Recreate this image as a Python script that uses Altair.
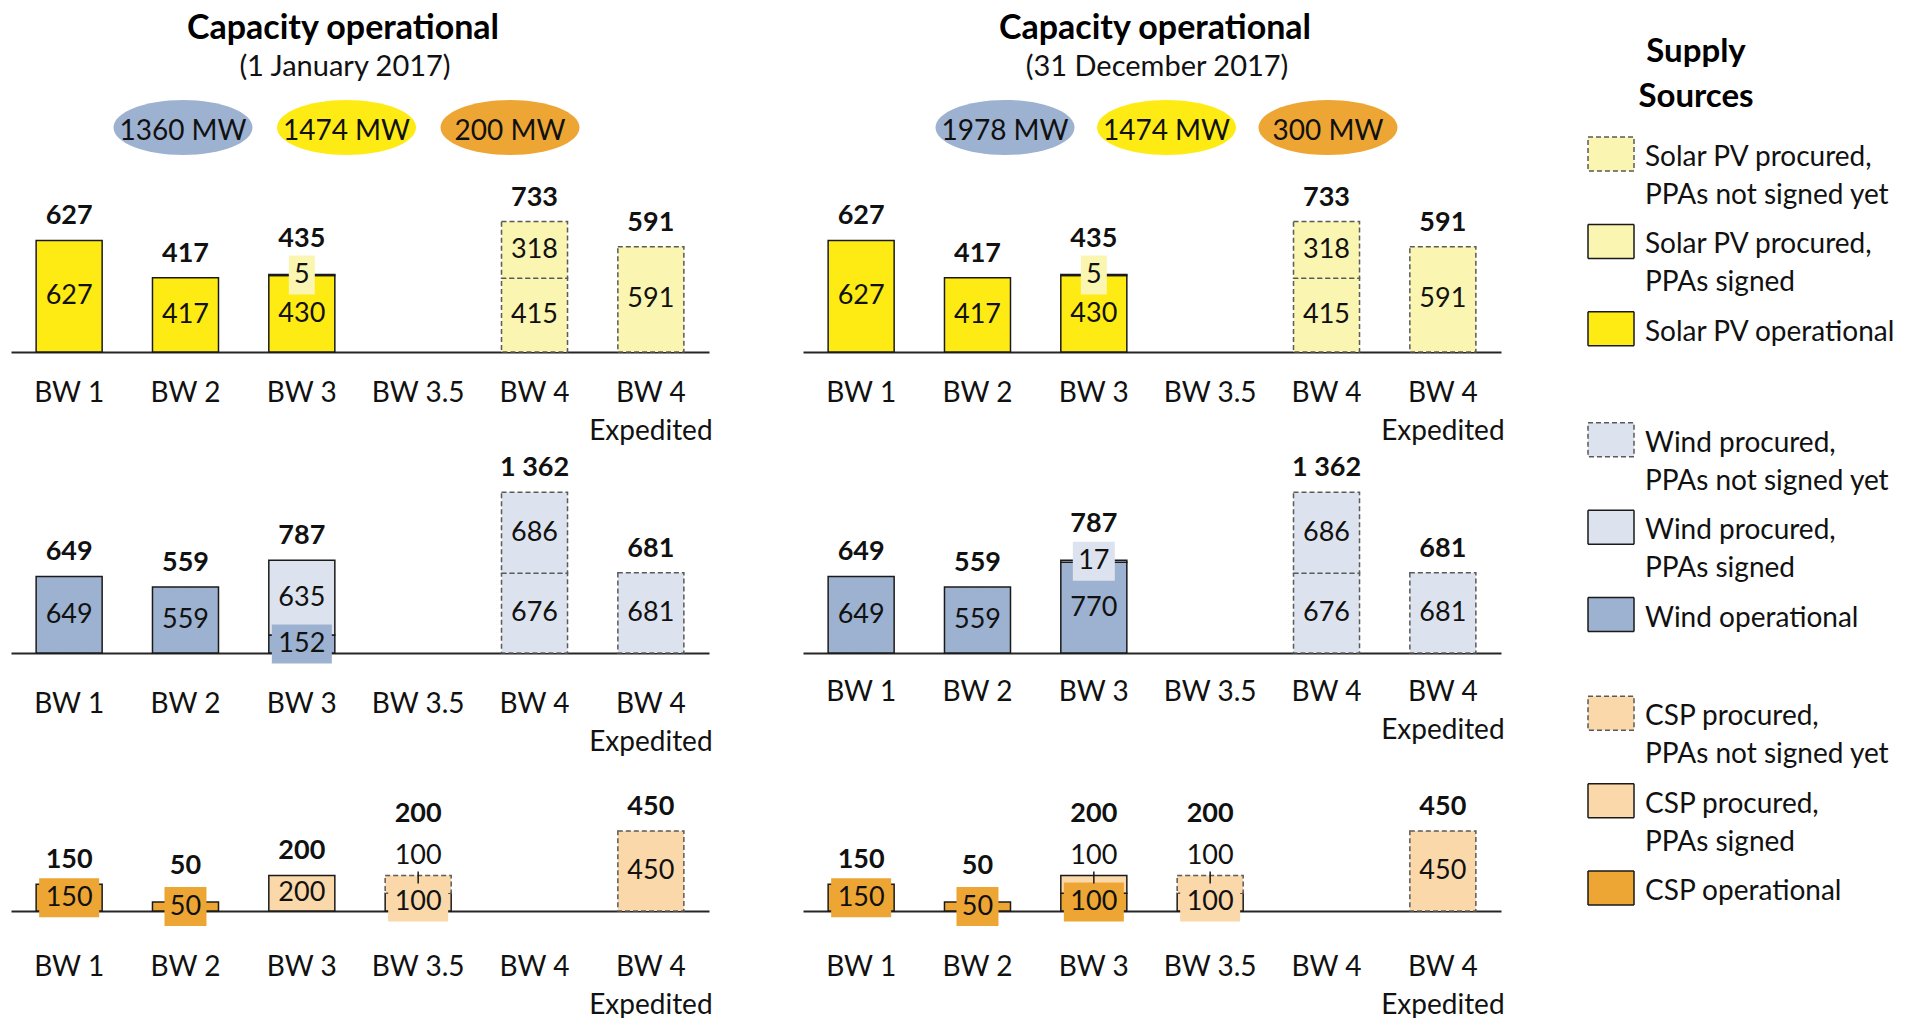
import altair as alt
import pandas as pd

# ---------------- data ----------------
categories = ["BW 1", "BW 2", "BW 3", "BW 3.5", "BW 4", "BW 4 Expedited"]
sources = ["Wind", "Solar PV", "CSP"]
statuses = ["not signed", "signed", "operational"]
panels = ["jan", "dec"]
panel_dates = {"jan": "1 January 2017", "dec": "31 December 2017"}

# stacked segments, bottom to top: (bid window, status, MW)
solar_jan = [("BW 1", "operational", 627), ("BW 2", "operational", 417),
             ("BW 3", "operational", 430), ("BW 3", "signed", 5),
             ("BW 4", "not signed", 415), ("BW 4", "not signed", 318),
             ("BW 4 Expedited", "not signed", 591)]
solar_dec = [("BW 1", "operational", 627), ("BW 2", "operational", 417),
             ("BW 3", "operational", 430), ("BW 3", "signed", 5),
             ("BW 4", "not signed", 415), ("BW 4", "not signed", 318),
             ("BW 4 Expedited", "not signed", 591)]
wind_jan = [("BW 1", "operational", 649), ("BW 2", "operational", 559),
            ("BW 3", "operational", 152), ("BW 3", "signed", 635),
            ("BW 4", "not signed", 676), ("BW 4", "not signed", 686),
            ("BW 4 Expedited", "not signed", 681)]
wind_dec = [("BW 1", "operational", 649), ("BW 2", "operational", 559),
            ("BW 3", "operational", 770), ("BW 3", "signed", 17),
            ("BW 4", "not signed", 676), ("BW 4", "not signed", 686),
            ("BW 4 Expedited", "not signed", 681)]
csp_jan = [("BW 1", "operational", 150), ("BW 2", "operational", 50),
           ("BW 3", "signed", 200),
           ("BW 3.5", "signed", 100), ("BW 3.5", "not signed", 100),
           ("BW 4 Expedited", "not signed", 450)]
csp_dec = [("BW 1", "operational", 150), ("BW 2", "operational", 50),
           ("BW 3", "operational", 100), ("BW 3", "signed", 100),
           ("BW 3.5", "signed", 100), ("BW 3.5", "not signed", 100),
           ("BW 4 Expedited", "not signed", 450)]

legend_labels = {
    "not signed": ["{} procured,", "PPAs not signed yet"],
    "signed": ["{} procured,", "PPAs signed"],
    "operational": ["{} operational"],
}
legend_order = ["Solar PV", "Wind", "CSP"]

# ---------------- styles ----------------
FONT = "Lato"
fill_colors = {
    ("Solar PV", "operational"): "#FFEB14", ("Solar PV", "signed"): "#FAF5B0", ("Solar PV", "not signed"): "#FAF5B0",
    ("Wind", "operational"): "#9DB1D1", ("Wind", "signed"): "#DDE3EE", ("Wind", "not signed"): "#DDE3EE",
    ("CSP", "operational"): "#EDA633", ("CSP", "signed"): "#FAD8AA", ("CSP", "not signed"): "#FAD8AA",
}
key_domain = [f"{s}|{t}" for s in sources for t in statuses]
key_fill = [fill_colors[(s, t)] for s in sources for t in statuses]
key_stroke = ["#5A5A5A" if t == "not signed" else "#1A1A1A" for s in sources for t in statuses]
key_dash = [[5, 3] if t == "not signed" else [1, 0] for s in sources for t in statuses]

fill_enc = alt.Fill("key:N", scale=alt.Scale(domain=key_domain, range=key_fill), legend=None)
stroke_enc = alt.Stroke("key:N", scale=alt.Scale(domain=key_domain, range=key_stroke), legend=None)
dash_enc = alt.StrokeDash("key:N", scale=alt.Scale(domain=key_domain, range=key_dash), legend=None)

px_per_mw = {"Solar PV": 0.178, "Wind": 0.118, "CSP": 0.178}
row_height = {"Solar PV": 160, "Wind": 301, "CSP": 258}
label_pad = {("jan", "Solar PV"): 27, ("jan", "Wind"): 37, ("jan", "CSP"): 42,
             ("dec", "Solar PV"): 27, ("dec", "Wind"): 25, ("dec", "CSP"): 42}
PANEL_W = 698
HEADER_H = 184
LEG_W = 300
title_x = {"jan": 334, "dec": 354}
ellipse_range = {"jan": [172, 499], "dec": [202, 525]}
legend_group_start = [0, 3.27, 6.4]


def rect_path(w, h):
    return f"M{-w/2},{-h/2}H{w/2}V{h/2}H{-w/2}Z"


box_paths = [rect_path(26, 39), rect_path(42, 39), rect_path(60, 39)]
ELLIPSE = "M-69.5,0A69.5,27.5 0 1,1 69.5,0A69.5,27.5 0 1,1 -69.5,0Z"
SWATCH = rect_path(46, 34)

# ---------------- tables ----------------
rows = {("jan", "Solar PV"): solar_jan, ("dec", "Solar PV"): solar_dec,
        ("jan", "Wind"): wind_jan, ("dec", "Wind"): wind_dec,
        ("jan", "CSP"): csp_jan, ("dec", "CSP"): csp_dec}

seg_records, tot_records = [], []
for (panel, src), segs in rows.items():
    stack, bars = {}, {}
    for cat, status, mw in segs:
        y0 = stack.get(cat, 0)
        first = cat not in bars
        above = (src == "CSP") and not first
        stack[cat] = y0 + mw
        bars.setdefault(cat, []).append((mw, above))
        seg_records.append(dict(panel=panel, source=src, category=cat, status=status,
                                key=f"{src}|{status}", mw=mw, y0=y0, y1=y0 + mw,
                                mid=y0 + mw / 2, label=str(mw), digits=len(str(mw)),
                                above=above, boxed=(mw < 200 and not above)))
    for cat, parts in bars.items():
        total = stack[cat]
        if any(a for _, a in parts):
            style = "above"
        elif parts[-1][0] < 60:
            style = "box"
        else:
            style = "normal"
        tot_records.append(dict(panel=panel, source=src, category=cat, total=total,
                                total_label=f"{total:,}".replace(",", " "), style=style))
seg_df = pd.DataFrame(seg_records)
tot_df = pd.DataFrame(tot_records)

head_records = []
for panel in panels:
    for src in sources:
        op = seg_df[(seg_df.panel == panel) & (seg_df.source == src) & (seg_df.status == "operational")].mw.sum()
        head_records.append(dict(panel=panel, source=src, key=f"{src}|operational", label=f"{op} MW"))
head_df = pd.DataFrame(head_records)

leg_records = []
for g, src in enumerate(legend_order):
    for i, status in enumerate(statuses):
        leg_records.append(dict(key=f"{src}|{status}", slot=legend_group_start[g] + i,
                                lines=[t.format(src) for t in legend_labels[status]]))
leg_df = pd.DataFrame(leg_records)

# ---------------- charts ----------------
def row_chart(panel, src):
    seg = seg_df[(seg_df.panel == panel) & (seg_df.source == src)]
    tot = tot_df[(tot_df.panel == panel) & (tot_df.source == src)]
    ymax = row_height[src] / px_per_mw[src]
    x = alt.X("category:N",
              scale=alt.Scale(domain=categories, paddingInner=0.4325, paddingOuter=0.216),
              axis=alt.Axis(title=None, domain=True, domainColor="#262626", domainWidth=2,
                            ticks=False, grid=False, labelAngle=0, labelFont=FONT,
                            labelFontSize=28, labelColor="#111111",
                            labelPadding=label_pad[(panel, src)], labelLineHeight=38,
                            labelOverlap=False,
                            labelExpr="datum.value == 'BW 4 Expedited' ? ['BW 4', 'Expedited'] : datum.label"))
    ys = alt.Scale(domain=[0, ymax], nice=False, zero=False)
    base = alt.Chart(seg)
    bars = base.mark_bar(strokeWidth=1.5).encode(
        x=x, y=alt.Y("y1:Q", scale=ys, axis=None), y2="y0:Q",
        fill=fill_enc, stroke=stroke_enc, strokeDash=dash_enc)
    boxes = base.transform_filter("datum.boxed").mark_point(
        filled=True, size=4, opacity=1, strokeWidth=0).encode(
        x=x, y=alt.Y("mid:Q", scale=ys, axis=None), fill=fill_enc,
        shape=alt.Shape("digits:O", scale=alt.Scale(domain=[1, 2, 3], range=box_paths), legend=None))
    labels = base.transform_filter("!datum.above").mark_text(
        font=FONT, fontSize=27, baseline="middle", color="#111111").encode(
        x=x, y=alt.Y("mid:Q", scale=ys, axis=None), text="label:N")
    above = base.transform_filter("datum.above").mark_text(
        font=FONT, fontSize=27, baseline="middle", color="#111111", dy=-19).encode(
        x=x, y=alt.Y("y1:Q", scale=ys, axis=None), text="label:N")
    ticks = base.transform_filter("datum.above").mark_rule(
        color="#1A1A1A", strokeWidth=1.5, yOffset=-4, y2Offset=8).encode(
        x=x, y=alt.Y("y1:Q", scale=ys, axis=None), y2="y1:Q")
    layers = [bars, boxes, labels, above, ticks]
    for style, dy in [("normal", -24), ("box", -36), ("above", -61)]:
        layers.append(alt.Chart(tot).transform_filter(f"datum.style == '{style}'").mark_text(
            font=FONT, fontSize=27, fontWeight="bold", baseline="middle", color="#111111", dy=dy).encode(
            x=x, y=alt.Y("total:Q", scale=ys, axis=None), text="total_label:N"))
    return alt.layer(*layers).properties(width=PANEL_W, height=row_height[src])


def header_chart(panel):
    hd = head_df[head_df.panel == panel]
    xs = alt.X("source:N", scale=alt.Scale(type="point", domain=sources,
                                           range=ellipse_range[panel], padding=0), axis=None)
    ell = alt.Chart(hd).mark_point(shape=ELLIPSE, size=4, filled=True, opacity=1, strokeWidth=0).encode(
        x=xs, y=alt.value(119.5), fill=fill_enc)
    txt = alt.Chart(hd).mark_text(font=FONT, fontSize=28, baseline="alphabetic", color="#111111").encode(
        x=xs, y=alt.value(132), text="label:N")
    one = hd.head(1)
    title = alt.Chart(one).mark_text(text="Capacity operational", font=FONT, fontSize=34,
                                     fontWeight="bold", baseline="alphabetic", color="#000000").encode(
        x=alt.value(title_x[panel] - 2), y=alt.value(30.5))
    sub = alt.Chart(one).mark_text(text=f"({panel_dates[panel]})", font=FONT, fontSize=29,
                                   baseline="alphabetic", color="#111111").encode(
        x=alt.value(title_x[panel]), y=alt.value(68))
    return alt.layer(ell, txt, title, sub).properties(width=PANEL_W, height=HEADER_H)


LEG_H = HEADER_H + sum(row_height.values())
leg_scale = alt.Scale(domain=[-1.671, 8.663], range=[0, LEG_H], nice=False, zero=False)
swatch = alt.Chart(leg_df).mark_point(shape=SWATCH, size=4, filled=True, opacity=1,
                                       strokeWidth=1.5).encode(
    x=alt.value(16), y=alt.Y("slot:Q", scale=leg_scale, axis=None),
    fill=fill_enc, stroke=stroke_enc, strokeDash=dash_enc)
leg_text = alt.Chart(leg_df).mark_text(font=FONT, fontSize=28, align="left", baseline="top",
                                        dy=-10, lineHeight=38, color="#111111").encode(
    x=alt.value(50), y=alt.Y("slot:Q", scale=leg_scale, axis=None), text="lines:N")
leg_title = alt.Chart(leg_df.head(1)).mark_text(text=["Supply", "Sources"], font=FONT, fontSize=33,
                                                 fontWeight="bold", align="center", baseline="top",
                                                 lineHeight=45, color="#000000").encode(
    x=alt.value(101), y=alt.value(28))
legend = alt.layer(swatch, leg_text, leg_title).properties(width=LEG_W, height=HEADER_H)


def blank(h):
    return alt.Chart(pd.DataFrame({"a": [0]})).mark_text(text=" ").encode(
        x=alt.value(0), y=alt.value(0)).properties(width=LEG_W, height=h)


cells = [header_chart("jan"), header_chart("dec"), legend,
         row_chart("jan", "Solar PV"), row_chart("dec", "Solar PV"), blank(row_height["Solar PV"]),
         row_chart("jan", "Wind"), row_chart("dec", "Wind"), blank(row_height["Wind"]),
         row_chart("jan", "CSP"), row_chart("dec", "CSP")]

chart = alt.concat(*cells, columns=3, spacing={"row": 0, "column": 94}, bounds="flush").properties(
    padding={"left": 3, "top": 0, "right": 0, "bottom": 0}
).configure(font=FONT).configure_view(stroke="transparent", strokeWidth=0)

chart.save("out.html", embed_options={"renderer": "svg", "actions": False})
